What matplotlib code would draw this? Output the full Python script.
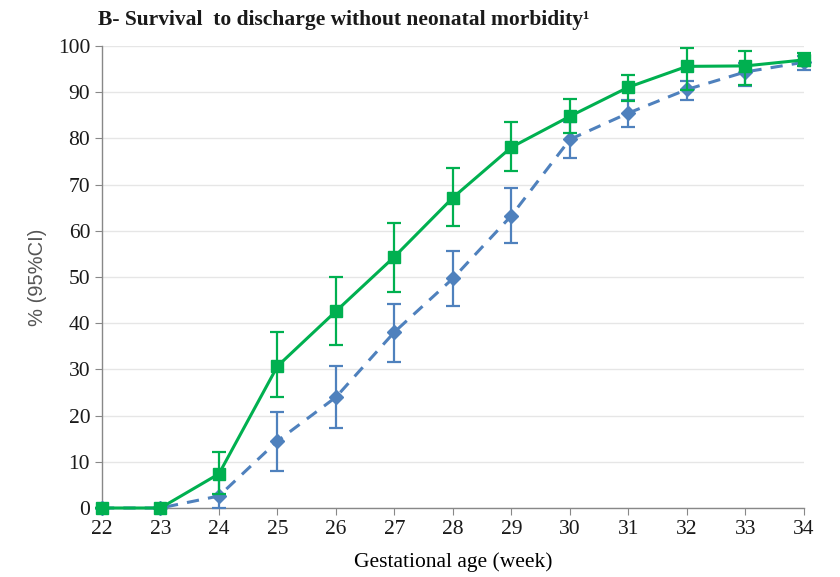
import numpy as np
import matplotlib.pyplot as plt

weeks = [22, 23, 24, 25, 26, 27, 28, 29, 30, 31, 32, 33, 34]

green = [0, 0, 7.4, 30.7, 42.6, 54.4, 67.2, 78.1, 84.8, 91.1, 95.6, 95.7, 97.0]
green_lo = [0, 0, 3.0, 24.0, 35.3, 46.8, 61.0, 72.9, 81.2, 88.1, 90.5, 91.5, 95.6]
green_hi = [0, 0, 12.2, 38.1, 50.0, 61.7, 73.6, 83.6, 88.5, 93.7, 99.6, 99.0, 98.6]

blue = [0, 0, 2.6, 14.5, 24.0, 38.1, 49.7, 63.3, 79.8, 85.5, 90.6, 94.4, 96.5]
blue_lo = [0, 0, 0, 8.0, 17.3, 31.6, 43.7, 57.4, 75.8, 82.5, 88.3, 91.3, 94.8]
blue_hi = [0, 0, 6.5, 20.8, 30.7, 44.2, 55.6, 69.3, 83.5, 88.3, 92.4, 96.3, 97.8]

plt.rcParams['font.family'] = ['Liberation Serif', 'DejaVu Serif']

fig = plt.figure(figsize=(8.4, 5.77), dpi=100)
ax = fig.add_axes([0.1214, 0.1196, 0.8357, 0.8006])

gcol = '#00B050'
bcol = '#4F81BD'

b_err = [np.array(blue) - np.array(blue_lo), np.array(blue_hi) - np.array(blue)]
g_err = [np.array(green) - np.array(green_lo), np.array(green_hi) - np.array(green)]

ax.errorbar(weeks, blue, yerr=b_err, color=bcol, linestyle=(0, (4, 3)), linewidth=2.2,
            marker='D', markersize=7, capsize=5, elinewidth=1.6, capthick=1.6,
            clip_on=False, zorder=3)
ax.errorbar(weeks, green, yerr=g_err, color=gcol, linestyle='-', linewidth=2.2,
            marker='s', markersize=9, capsize=5, elinewidth=1.6, capthick=1.6,
            clip_on=False, zorder=4)

ax.set_xlim(22, 34)
ax.set_ylim(0, 100)
ax.set_xticks(weeks)
ax.set_yticks(range(0, 101, 10))
ax.tick_params(labelsize=15.5, colors='#1a1a1a', length=5, color='#888888')
ax.grid(axis='y', color='#e6e6e6', linewidth=1)
ax.set_axisbelow(True)
for s in ['top', 'right']:
    ax.spines[s].set_visible(False)
for s in ['left', 'bottom']:
    ax.spines[s].set_color('#888888')
    ax.spines[s].set_linewidth(1)

ax.set_xlabel('Gestational age (week)', fontsize=15.5, labelpad=10)
ax.set_ylabel('% (95%CI)', fontsize=14.5, color='#555555', family=['Liberation Sans', 'DejaVu Sans'], labelpad=8)
fig.text(0.117, 0.966, 'B- Survival  to discharge without neonatal morbidity\u00b9',
         fontsize=15.5, fontweight='bold', color='#1a1a1a', va='center')

fig.savefig('out.png', dpi=100)
